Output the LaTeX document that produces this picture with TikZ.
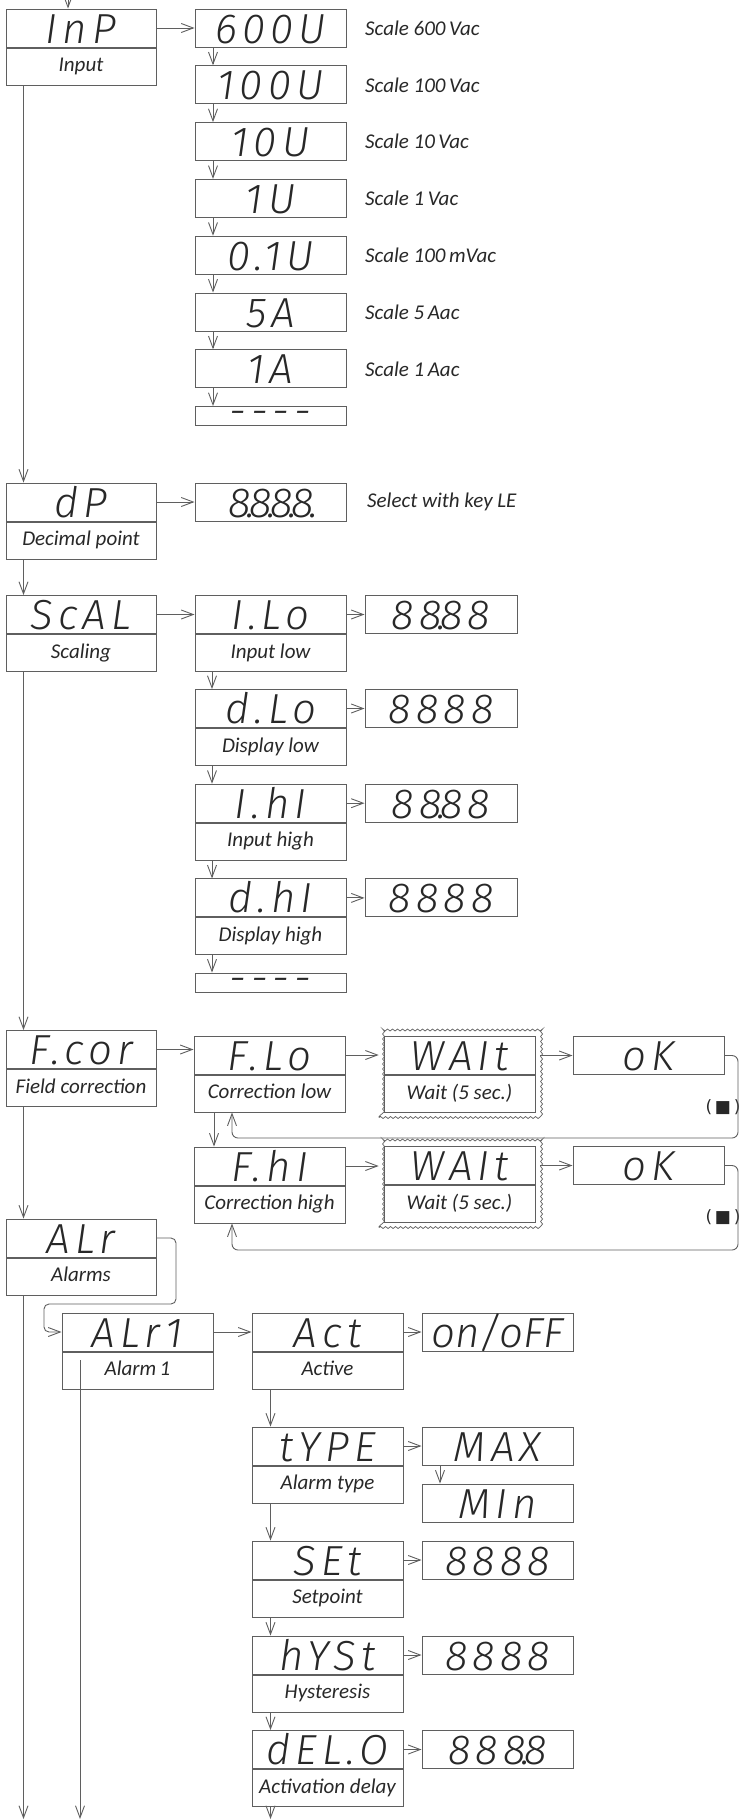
\documentclass[tikz,border=0pt]{standalone}
\usepackage{fontspec}
\usetikzlibrary{arrows.meta,decorations.pathmorphing,fit,calc}
\setmainfont{Carlito}
\IfFontExistsTF{Fira Sans Light Italic}
 {\newfontfamily\segfont{Fira Sans Light Italic}[LetterSpace=12]}
 {\IfFontExistsTF{FiraSans-LightItalic}
   {\newfontfamily\segfont{FiraSans-LightItalic}[LetterSpace=12]}
   {\newfontfamily\segfontbase{Fira Sans}[LetterSpace=12]\newcommand\segfont{\segfontbase\itshape}}}
\newfontfamily\symfont{DejaVu Sans}
\newcommand\sdot{\kern-0.1em.\kern-0.14em}
\definecolor{lc}{RGB}{95,95,95}
\definecolor{tc}{RGB}{40,40,40}
\tikzset{
  lnst/.style={draw=lc, line width=1pt},
  segbox/.style={lnst, inner sep=0pt, minimum width=151pt, minimum height=38pt, text=tc,
     font=\segfont\fontsize{42}{42}\selectfont, text height=30pt, text depth=0pt},
  lsegbox/.style={segbox, minimum width=150pt},
  dashbox/.style={segbox, minimum height=19pt, text height=19pt},
  capbox/.style={lnst, inner sep=0pt, minimum width=151pt, minimum height=37pt, text=tc,
     font=\itshape\fontsize{21}{21}\selectfont, text height=14pt, text depth=4pt, anchor=north},
  lcapbox/.style={capbox, minimum width=150pt},
  lbltext/.style={anchor=west, inner sep=0pt, text=tc, font=\itshape\fontsize{21}{21}\selectfont},
  arrw/.style={draw=lc, line width=0.9pt, -{Straight Barb[length=12pt,width=9pt]}},
  wavybox/.style={draw=lc, line width=0.7pt, decorate, decoration={snake, amplitude=1pt, segment length=5pt}, inner sep=4.5pt},
  sqtext/.style={inner sep=0pt, text=tc, font=\symfont\fontsize{17}{17}\selectfont},
}
\begin{document}
\begin{tikzpicture}[x=1pt,y=-1pt]
\fill[white] (0,0) rectangle (743,1820);
\useasboundingbox (0,0) rectangle (743,1820);

% column guides
\coordinate (sx) at (23.5,0);
\coordinate (cx) at (213,0);
\coordinate (cy) at (212,0);
\coordinate (fx) at (214,0);
\coordinate (lp) at (232,0);
\coordinate (ax) at (270.5,0);
\coordinate (mx) at (440,0);
\coordinate (t0) at (68,-4);

% ---------- Input ----------
\node[lsegbox] (inp) at (81,28) {InP};
\node[lcapbox] (inpc) at (inp.south) {Input};

\node[segbox] (v600) at (270.5,28) {600U};
\node[segbox] (v100) at (270.5,84.8) {100U};
\node[segbox] (v10) at (270.5,141.6) {10U};
\node[segbox] (v1) at (270.5,198.4) {1U};
\node[segbox] (v01) at (270.5,255.2) {0.1U};
\node[segbox] (a5) at (270.5,312) {5A};
\node[segbox] (a1) at (270.5,368.8) {1A};
\node[dashbox] (dash1) at (270.5,416) {-\kern5pt-\kern5pt-\kern5pt-};

\node[lbltext] (l600) at (365,28) {Scale 600\,Vac};
\node[lbltext] (l100) at (365,84.8) {Scale 100\,Vac};
\node[lbltext] (l10) at (365,141.6) {Scale 10\,Vac};
\node[lbltext] (l1) at (365,198.4) {Scale 1\,Vac};
\node[lbltext] (l01) at (365,255.2) {Scale 100\,mVac};
\node[lbltext] (l5a) at (365,312) {Scale 5\,Aac};
\node[lbltext] (l1a) at (365,368.8) {Scale 1\,Aac};

\draw[arrw] (t0) -- (inp.north -| t0);
\draw[arrw] (inp.east) -- (v600.west);
\draw[arrw] (v600.south -| cx) -- (v100.north -| cx);
\draw[arrw] (v100.south -| cx) -- (v10.north -| cx);
\draw[arrw] (v10.south -| cx) -- (v1.north -| cx);
\draw[arrw] (v1.south -| cx) -- (v01.north -| cx);
\draw[arrw] (v01.south -| cx) -- (a5.north -| cx);
\draw[arrw] (a5.south -| cx) -- (a1.north -| cx);
\draw[arrw] (a1.south -| cx) -- (dash1.north -| cx);

% ---------- Decimal point ----------
\node[lsegbox] (dp) at (81,502) {dP};
\node[lcapbox] (dpc) at (dp.south) {Decimal point};
\node[segbox] (dd) at (270.5,502) {8\sdot8\sdot8\sdot8\sdot};
\node[lbltext] (ldd) at (367,502) {Select with key LE};
\draw[arrw] (dp.east) -- (dd.west);

% ---------- Scaling ----------
\node[lsegbox] (scal) at (81,614.5) {ScAL};
\node[lcapbox] (scalc) at (scal.south) {Scaling};

\node[segbox] (ilo) at (270.5,614.5) {I.Lo};
\node[capbox] (iloc) at (ilo.south) {Input low};
\node[segbox] (dlo) at (270.5,708.5) {d.Lo};
\node[capbox] (dloc) at (dlo.south) {Display low};
\node[segbox] (ihi) at (270.5,803.2) {I.hI};
\node[capbox] (ihic) at (ihi.south) {Input high};
\node[segbox] (dhi) at (270.5,897.9) {d.hI};
\node[capbox] (dhic) at (dhi.south) {Display high};
\node[dashbox] (dash2) at (270.5,982.5) {-\kern5pt-\kern5pt-\kern5pt-};

\node[segbox, minimum width=152pt] (vilo) at (441,614.5) {88\sdot88};
\node[segbox, minimum width=152pt] (vdlo) at (441,708.5) {8888};
\node[segbox, minimum width=152pt] (vihi) at (441,803.2) {88\sdot88};
\node[segbox, minimum width=152pt] (vdhi) at (441,897.9) {8888};

\draw[arrw] (scal.east) -- (ilo.west);
\draw[arrw] (ilo.east) -- (vilo.west);
\draw[arrw] (dlo.east) -- (vdlo.west);
\draw[arrw] (ihi.east) -- (vihi.west);
\draw[arrw] (dhi.east) -- (vdhi.west);
\draw[arrw] (iloc.south -| cy) -- (dlo.north -| cy);
\draw[arrw] (dloc.south -| cy) -- (ihi.north -| cy);
\draw[arrw] (ihic.south -| cy) -- (dhi.north -| cy);
\draw[arrw] (dhic.south -| cy) -- (dash2.north -| cy);

% ---------- Field correction ----------
\node[lsegbox] (fcor) at (81,1049.5) {F.cor};
\node[lcapbox] (fcorc) at (fcor.south) {Field correction};

\node[segbox] (flo) at (269.5,1055) {F.Lo};
\node[capbox] (floc) at (flo.south) {Correction low};
\node[segbox] (wt1) at (459.5,1055.5) {WAIt};
\node[capbox] (wt1c) at (wt1.south) {Wait (5 sec.)};
\node[wavybox, fit=(wt1)(wt1c)] (w1) {};
\node[segbox] (ok1) at (648.5,1055.5) {oK};
\node[sqtext] (sq1) at (723,1107) {(\,■\,)};

\node[segbox] (fhi) at (269.5,1166) {F.hI};
\node[capbox] (fhic) at (fhi.south) {Correction high};
\node[segbox] (wt2) at (459.5,1165.5) {WAIt};
\node[capbox] (wt2c) at (wt2.south) {Wait (5 sec.)};
\node[wavybox, fit=(wt2)(wt2c)] (w2) {};
\node[segbox] (ok2) at (648.5,1165.5) {oK};
\node[sqtext] (sq2) at (723,1217) {(\,■\,)};

\coordinate (r1) at (738,1138);
\coordinate (r2) at (738,1250);

\draw[arrw] (fcor.east) -- (fcor.east -| flo.west);
\draw[arrw] (flo.east) -- (flo.east -| w1.west);
\draw[arrw] (ok1.west -| w1.east) -- (ok1.west);
\draw[arrw, rounded corners=6pt] (ok1.east) -| (r1) -| (floc.south -| lp);
\draw[arrw] (floc.south -| fx) -- (fhi.north -| fx);
\draw[arrw] (fhi.east) -- (fhi.east -| w2.west);
\draw[arrw] (ok2.west -| w2.east) -- (ok2.west);
\draw[arrw, rounded corners=6pt] (ok2.east) -| (r2) -| (fhic.south -| lp);

% ---------- Alarms ----------
\node[lsegbox] (alr) at (81,1238) {ALr};
\node[lcapbox] (alrc) at (alr.south) {Alarms};

\node[segbox] (alr1) at (137.5,1332) {ALr1};
\node[capbox] (alr1c) at (alr1.south) {Alarm\,1};
\node[segbox] (act) at (327.5,1332) {Act};
\node[capbox] (actc) at (act.south) {Active};
\node[segbox] (onoff) at (497.5,1332) {\addfontfeature{LetterSpace=0}on/oFF};
\node[segbox] (type) at (327.5,1446) {tYPE};
\node[capbox] (typec) at (type.south) {Alarm type};
\node[segbox] (vmax) at (497.5,1446) {MAX};
\node[segbox] (vmin) at (497.5,1503) {MIn};
\node[segbox] (set) at (327.5,1560) {SEt};
\node[capbox] (setc) at (set.south) {Setpoint};
\node[segbox] (vset) at (497.5,1560) {8888};
\node[segbox] (hyst) at (327.5,1655) {hYSt};
\node[capbox] (hystc) at (hyst.south) {Hysteresis};
\node[segbox] (vhyst) at (497.5,1655) {8888};
\node[segbox] (del) at (327.5,1749.5) {dEL.O};
\node[capbox] (delc) at (del.south) {Activation delay};
\node[segbox] (vdel) at (497.5,1749.5) {888\sdot8};

\coordinate (a1p) at (176,1304);
\coordinate (a2p) at (44,1332);
\coordinate (a3p) at (80,1360);
\coordinate (b1) at (23.5,1819);
\coordinate (b2) at (80,1819);
\coordinate (b3) at (270.5,1819);

% spine
\draw[arrw] (inpc.south -| sx) -- (dp.north -| sx);
\draw[arrw] (dpc.south -| sx) -- (scal.north -| sx);
\draw[arrw] (scalc.south -| sx) -- (fcor.north -| sx);
\draw[arrw] (fcorc.south -| sx) -- (alr.north -| sx);
\draw[arrw] (alrc.south -| sx) -- (b1);

\draw[arrw, rounded corners=5pt] (alr.east) -| (a1p) -| (a2p) -- (alr1.west);
\draw[arrw] (a3p) -- (b2);
\draw[arrw] (alr1.east) -- (act.west);
\draw[arrw] (act.east) -- (onoff.west);
\draw[arrw] (actc.south -| ax) -- (type.north -| ax);
\draw[arrw] (type.east) -- (vmax.west);
\draw[arrw] (vmax.south -| mx) -- (vmin.north -| mx);
\draw[arrw] (typec.south -| ax) -- (set.north -| ax);
\draw[arrw] (set.east) -- (vset.west);
\draw[arrw] (setc.south -| ax) -- (hyst.north -| ax);
\draw[arrw] (hyst.east) -- (vhyst.west);
\draw[arrw] (hystc.south -| ax) -- (del.north -| ax);
\draw[arrw] (del.east) -- (vdel.west);
\draw[arrw] (delc.south -| ax) -- (b3);
\end{tikzpicture}
\end{document}
